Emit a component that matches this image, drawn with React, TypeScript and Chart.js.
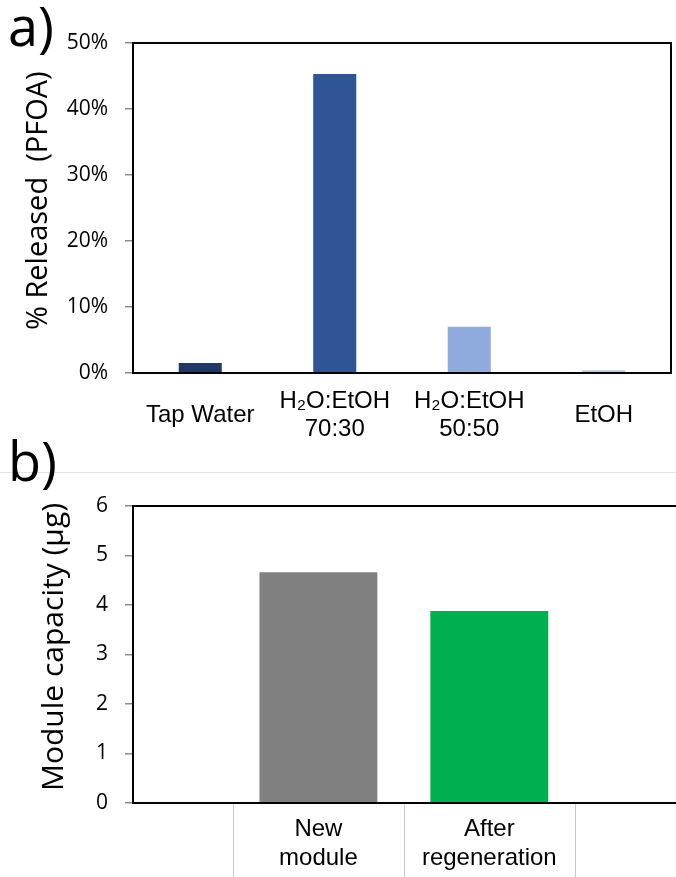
import React, { useEffect, useRef } from 'react';
import { Chart, registerables } from 'chart.js';

Chart.register(...registerables);

// ---- Data: panel a ----
const categoriesA: string[][] = [['Tap Water'], ['H₂O:EtOH', '70:30'], ['H₂O:EtOH', '50:50'], ['EtOH']];
const releasedPct: number[] = [1.5, 45.3, 7.0, 0.4];
const colorsA: string[] = ['#203864', '#2F5597', '#8FAADC', '#B4C7E7'];
const yMaxA = 50;
const yStepA = 10;

// ---- Data: panel b ----
const categoriesB: string[][] = [['New', 'module'], ['After', 'regeneration']];
const capacityUg: number[] = [4.66, 3.88];
const colorsB: string[] = ['#808080', '#00B050'];
const yMaxB = 6;
const yStepB = 1;

const frameA = {
  id: 'frameA',
  afterDatasetsDraw(chart: any) {
    const { ctx, chartArea } = chart;
    const { left, top, right, bottom } = chartArea;
    ctx.save();
    ctx.strokeStyle = '#000';
    ctx.lineWidth = 2;
    ctx.strokeRect(left, top, right - left, bottom - top);
    ctx.restore();
  },
};

const frameB = {
  id: 'frameB',
  afterDatasetsDraw(chart: any) {
    const { ctx, chartArea, scales } = chart;
    const { left, top, right, bottom } = chartArea;
    ctx.save();
    ctx.strokeStyle = '#000';
    ctx.lineWidth = 2;
    ctx.beginPath();
    ctx.moveTo(right + 5, top);
    ctx.lineTo(left, top);
    ctx.lineTo(left, bottom);
    ctx.lineTo(right + 5, bottom);
    ctx.stroke();
    // category separators below axis
    ctx.strokeStyle = '#c8c8c8';
    ctx.lineWidth = 1;
    for (let i = 0; i <= categoriesB.length; i++) {
      const x = Math.round(scales.x.getPixelForValue(i + 0.5)) + 0.5;
      ctx.beginPath();
      ctx.moveTo(x, bottom + 1);
      ctx.lineTo(x, chart.height);
      ctx.stroke();
    }
    ctx.restore();
  },
};

const tickFont = { family: 'Open Sans', size: 21 };
const catFont = { family: 'Liberation Sans', size: 24, lineHeight: 1.2 };

export default function App() {
  const refA = useRef<HTMLCanvasElement>(null);
  const refB = useRef<HTMLCanvasElement>(null);

  useEffect(() => {
    const chartA = new Chart(refA.current!, {
      type: 'bar',
      data: {
        labels: categoriesA,
        datasets: [
          {
            data: releasedPct,
            backgroundColor: colorsA,
            borderWidth: 0,
            categoryPercentage: 1,
            barPercentage: 0.32,
          },
        ],
      },
      options: {
        responsive: false,
        animation: false,
        devicePixelRatio: 1,
        layout: { padding: { top: 43, right: 5, left: 0, bottom: 0 } },
        plugins: { legend: { display: false }, tooltip: { enabled: false } },
        scales: {
          x: {
            grid: { display: false, drawTicks: false },
            border: { display: false },
            ticks: {
              color: '#000',
              font: catFont,
              padding: 28,
              maxRotation: 0,
              autoSkip: false,
              crossAlign: 'center',
            },
            afterFit: (s: any) => {
              s.height = 67;
            },
          },
          y: {
            min: 0,
            max: yMaxA,
            border: { display: false },
            grid: { drawOnChartArea: false, tickLength: 8, color: '#8c8c8c', lineWidth: 1.5 },
            ticks: {
              stepSize: yStepA,
              color: '#000',
              font: tickFont,
              padding: 17,
              callback: (v: any) => v + '%',
            },
            title: {
              display: true,
              text: '\u2002% Released  (PFOA)',
              color: '#000',
              font: { family: 'Open Sans', size: 29 },
              padding: { top: 21, bottom: 0 },
            },
            afterFit: (s: any) => {
              s.width = 133;
            },
          },
        },
      },
      plugins: [frameA],
    });

    const chartB = new Chart(refB.current!, {
      type: 'bar',
      data: {
        datasets: [
          {
            data: categoriesB.map((_, i) => ({ x: i + 1, y: capacityUg[i] })),
            backgroundColor: colorsB,
            borderWidth: 0,
            categoryPercentage: 1,
            barPercentage: 0.69,
          },
        ],
      },
      options: {
        responsive: false,
        animation: false,
        devicePixelRatio: 1,
        layout: { padding: { top: 66, right: 0, left: 0, bottom: 0 } },
        plugins: { legend: { display: false }, tooltip: { enabled: false } },
        scales: {
          x: {
            type: 'linear',
            min: -0.085,
            max: 3.35,
            offset: false,
            grid: { display: false, drawTicks: false },
            border: { display: false },
            afterBuildTicks: (s: any) => {
              s.ticks = categoriesB.map((_, i) => ({ value: i + 1 }));
            },
            ticks: {
              color: '#000',
              font: catFont,
              padding: 12,
              maxRotation: 0,
              autoSkip: false,
              callback: (v: any) => categoriesB[Math.round(v) - 1],
            },
            afterFit: (s: any) => {
              s.height = 74;
            },
          },
          y: {
            min: 0,
            max: yMaxB,
            border: { display: false },
            grid: { drawOnChartArea: false, tickLength: 8, color: '#8c8c8c', lineWidth: 1.5 },
            ticks: { stepSize: yStepB, color: '#000', font: tickFont, padding: 17 },
            title: {
              display: true,
              text: '\u2002Module capacity (μg)',
              color: '#000',
              font: { family: 'Open Sans', size: 30 },
              padding: { top: 36, bottom: 0 },
            },
            afterFit: (s: any) => {
              s.width = 133;
            },
          },
        },
      },
      plugins: [frameB],
    });

    return () => {
      chartA.destroy();
      chartB.destroy();
    };
  }, []);

  const panelLabel: React.CSSProperties = {
    position: 'absolute',
    left: 8,
    fontFamily: 'Open Sans',
    fontSize: 54,
    lineHeight: '54px',
    color: '#000',
  };

  return (
    <div style={{ position: 'absolute', left: 0, top: 0, width: 676, height: 877, overflow: 'hidden', background: '#fff' }}>
      <canvas ref={refA} width={676} height={440} style={{ position: 'absolute', left: 0, top: 0 }} />
      <div style={{ position: 'absolute', left: 0, top: 472, width: 676, height: 1, background: '#e3e3e3' }} />
      <canvas ref={refB} width={720} height={437} style={{ position: 'absolute', left: 0, top: 440 }} />
      <div style={{ ...panelLabel, top: -2 }}>a)</div>
      <div style={{ ...panelLabel, top: 433 }}>b)</div>
    </div>
  );
}
